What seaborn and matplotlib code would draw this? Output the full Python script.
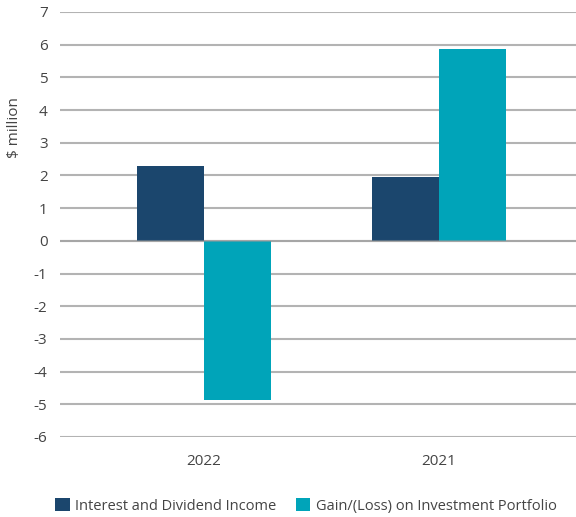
import matplotlib
matplotlib.use("Agg")
import matplotlib.pyplot as plt
import seaborn as sns
import pandas as pd
from matplotlib.patches import Patch

years = ["2022", "2021"]
series = ["Interest and Dividend Income", "Gain/(Loss) on Investment Portfolio"]
interest = [2.29, 1.95]
gain = [-4.87, 5.88]
colors = ["#1b466d", "#00a4b9"]
yticks = list(range(-6, 8))

df = pd.DataFrame({
    "year": years * 2,
    "series": [series[0]] * 2 + [series[1]] * 2,
    "value": interest + gain,
})

sns.set_style("white")
plt.rcParams["font.family"] = ["Open Sans", "DejaVu Sans"]
text_color = "#444444"

fig = plt.figure(figsize=(5.76, 5.17), dpi=100)
ax = fig.add_axes([60 / 576, 1 - 437 / 517, 516 / 576, 425 / 517])

sns.barplot(data=df, x="year", y="value", hue="series", palette=colors,
            width=0.57, saturation=1, ax=ax, legend=False, zorder=3)
for p in ax.patches:
    p.set_linewidth(0)

ax.set_ylim(-6, 7)
ax.set_xlim(-0.613, 1.583)
ax.set_yticks(yticks)
ax.set_yticklabels([str(t) for t in yticks])
ax.yaxis.grid(True, color="#b3b3b3", linewidth=1.5, zorder=0)
ax.set_axisbelow(True)
ax.axhline(0, color="#9a9a9a", linewidth=1.5, alpha=0.5, zorder=4)
for s in ax.spines.values():
    s.set_visible(False)
ax.tick_params(axis="both", length=0, labelsize=11, colors=text_color)
ax.tick_params(axis="y", pad=9)
ax.tick_params(axis="x", pad=12)
ax.set_xlabel("")
ax.set_ylabel("$ million", fontsize=11, color=text_color)
ax.yaxis.set_label_coords(-0.073, 0.727)

handles = [Patch(facecolor=c, edgecolor="none") for c in colors]
fig.legend(handles, series, loc="center", bbox_to_anchor=(306 / 576, 1 - 506 / 517),
           ncol=2, frameon=False, fontsize=10.5, labelcolor=text_color,
           handlelength=1.0, handleheight=1.0, handletextpad=0.4, columnspacing=1.3)

fig.savefig("out.png", dpi=100)
